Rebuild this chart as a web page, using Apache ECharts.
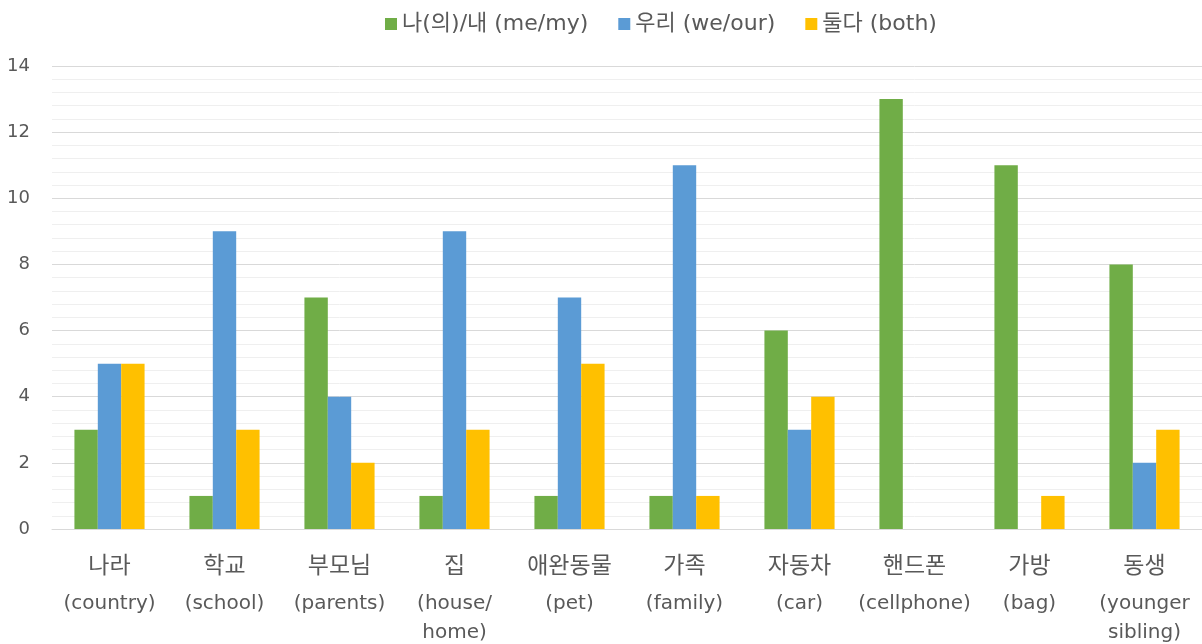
<!DOCTYPE html>
<html>
<head>
<meta charset="utf-8">
<style>
  html, body { margin: 0; padding: 0; background: #ffffff; }
  #chart { width: 1202px; height: 644px; }
</style>
<script src="https://cdn.jsdelivr.net/npm/echarts@6/dist/echarts.min.js"></script>
</head>
<body>
<div id="chart"></div>
<script>
// Categories: Korean word + English gloss (gloss may span two lines)
const categoriesKo = ['나라', '학교', '부모님', '집', '애완동물', '가족', '자동차', '핸드폰', '가방', '동생'];
const categoriesEn = [['(country)'], ['(school)'], ['(parents)'], ['(house/', 'home)'], ['(pet)'], ['(family)'], ['(car)'], ['(cellphone)'], ['(bag)'], ['(younger', 'sibling)']];

// Series names and counts per category
const seriesNames = ['나(의)/내 (me/my)', '우리 (we/our)', '둘다 (both)'];
const meMy  = [3, 1, 7, 1, 1, 1, 6, 13, 11, 8];
const weOur = [5, 9, 4, 9, 7, 11, 3, 0, 0, 2];
const both  = [5, 3, 2, 3, 5, 1, 4, 0, 1, 3];

const colors = ['#70AD47', '#5B9BD5', '#FFC000'];
const FONT = '"DejaVu Sans", "Noto Sans CJK KR", sans-serif';

const chart = echarts.init(document.getElementById('chart'));
const seriesData = [meMy, weOur, both];

chart.setOption({
  animation: false,
  textStyle: { fontFamily: FONT },
  legend: {
    top: 8,
    left: 380,
    icon: 'rect',
    itemWidth: 12,
    itemHeight: 12,
    itemGap: 30,
    textStyle: { color: '#595959', fontSize: 22, fontFamily: FONT }
  },
  grid: { left: 52, right: -5, top: 66, bottom: 115, containLabel: false },
  xAxis: {
    type: 'category',
    data: categoriesKo,
    axisTick: { show: false },
    axisLine: { lineStyle: { color: '#d9d9d9', width: 1 } },
    axisLabel: {
      interval: 0,
      margin: 16,
      color: '#595959',
      formatter: function (v, idx) {
        const lines = ['{k|' + categoriesKo[idx] + '}'];
        categoriesEn[idx].forEach(s => lines.push('{e|' + s + '}'));
        return lines.join('\n');
      },
      rich: {
        k: { fontSize: 23, lineHeight: 44, color: '#595959', fontFamily: FONT },
        e: { fontSize: 20, lineHeight: 29, color: '#595959', fontFamily: FONT }
      }
    }
  },
  yAxis: {
    type: 'value',
    min: 0,
    max: 14,
    interval: 2,
    axisLine: { show: false },
    axisTick: { show: false },
    axisLabel: { color: '#595959', fontSize: 18, margin: 22, fontFamily: FONT },
    splitLine: { lineStyle: { color: '#d9d9d9', width: 1 } },
    minorTick: { show: false, splitNumber: 5 },
    minorSplitLine: { show: true, lineStyle: { color: '#efefef', width: 1 } }
  },
  series: seriesNames.map((name, i) => ({
    name: name,
    type: 'bar',
    data: seriesData[i],
    barGap: '0%',
    barCategoryGap: '39%',
    itemStyle: { color: colors[i] }
  }))
});
</script>
</body>
</html>
